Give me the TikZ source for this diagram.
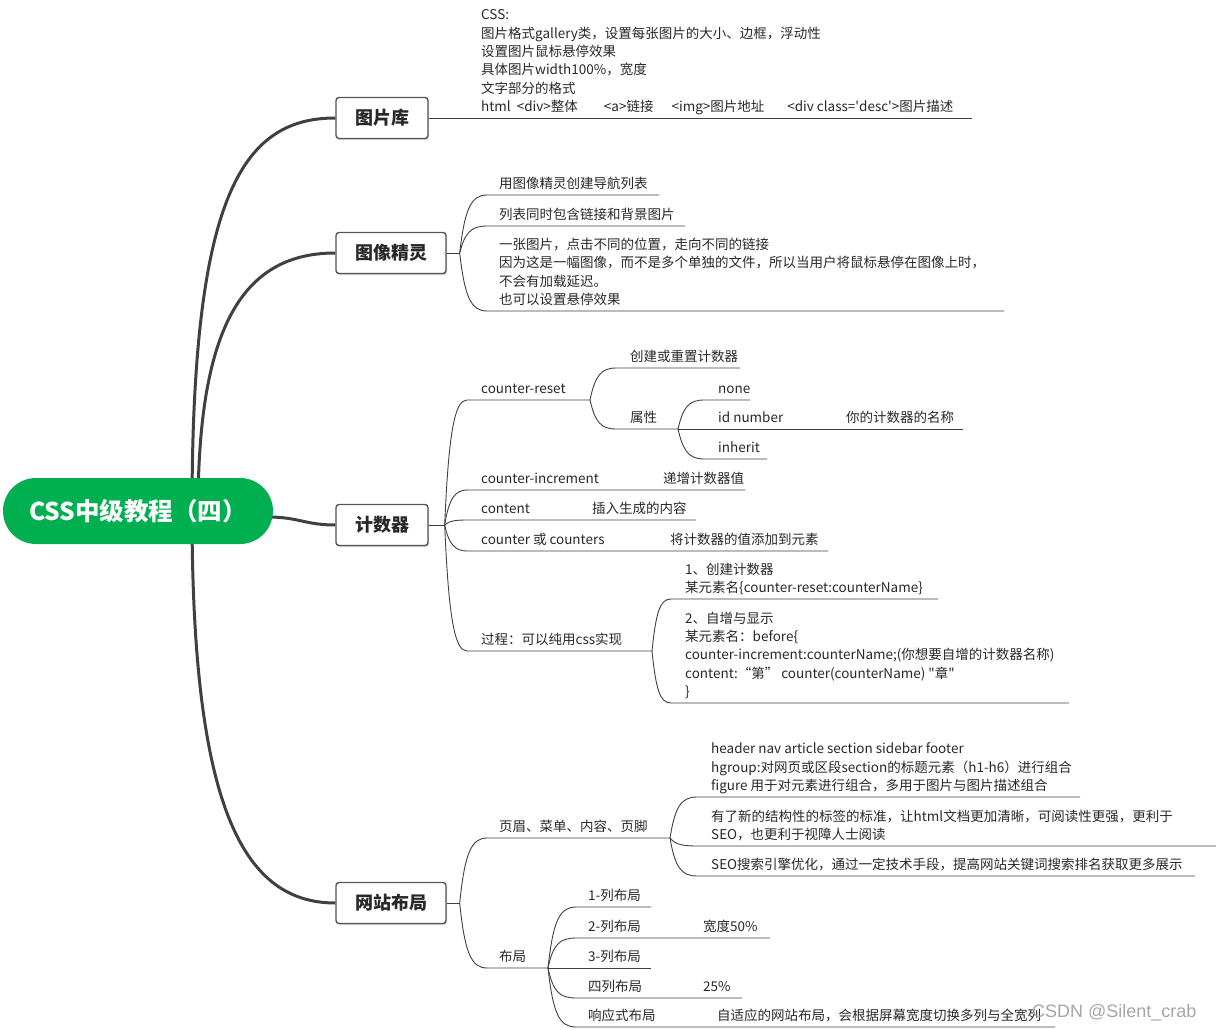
\documentclass[tikz,border=0pt]{standalone}
\usepackage{fontspec}
\setmainfont{Noto Sans CJK SC}
\newfontfamily\wmfont{Liberation Sans}
\usetikzlibrary{shadows,backgrounds}
\definecolor{rootgreen}{RGB}{0,176,80}
\definecolor{linegray}{RGB}{64,64,64}
\definecolor{boxgray}{RGB}{85,85,85}
\definecolor{textgray}{RGB}{40,40,40}

\begin{document}
\begin{tikzpicture}[x=1pt,y=-1pt,
    root/.style={fill=rootgreen,text=white,rounded corners=33pt,minimum width=270pt,minimum height=66pt,inner sep=0pt,font=\fontsize{24.5}{27}\selectfont\bfseries},
    topic/.style={draw=boxgray,line width=1.4pt,fill=white,rounded corners=3pt,inner xsep=19pt,inner ysep=0pt,minimum height=41pt,text=textgray,font=\fontsize{18}{22}\selectfont\bfseries,drop shadow={shadow xshift=1pt,shadow yshift=-1.5pt,fill=black!35,opacity=.5}},
    leaf/.style={anchor=south west,inner sep=0pt,yshift=-2pt,align=left,text=textgray,font=\fontsize{13.5}{18.4}\selectfont,execute at end node=\strut},
    main/.style={draw=linegray,line width=3pt},
    link/.style={draw=linegray,line width=0.9pt}]
  \useasboundingbox (0,0) rectangle (1216,1030);

  % centre and main topics
  \node[root] (root) at (138,511) {CSS中级教程（四）};
  \node[topic] (tk) at (382,118) {图片库};
  \node[topic] (jl) at (391,253) {图像精灵};
  \node[topic] (js) at (382,525) {计数器};
  \node[topic] (bj) at (391,903) {网站布局};

  \begin{scope}[on background layer]
    \draw[main] ([xshift=54pt]root.center) .. controls +(0,-311) and +(-95,0) .. (tk.west);
    \draw[main] ([xshift=60pt]root.center) .. controls +(0,-180) and +(-95,0) .. (jl.west);
    \draw[main] ([xshift=-5pt,yshift=-6pt]root.east) .. controls +(30,0) and +(-30,0) .. (js.west);
    \draw[main] ([xshift=54pt]root.center) .. controls +(0,290) and +(-95,0) .. (bj.west);
  \end{scope}

  % 图片库
  \node[leaf] (tk-a) at (481,115.5) {CSS:\\图片格式gallery类，设置每张图片的大小、边框，浮动性\\设置图片鼠标悬停效果\\具体图片width100\%，宽度\\文字部分的格式\\html\ \ <div>整体\hspace{26pt}<a>链接\hspace{18pt}<img>图片地址\hspace{23pt}<div class=\textquotesingle desc\textquotesingle>图片描述};
  \draw[link] (tk.east) -- ++(543.5,0);

  % 图像精灵
  \draw[link] (jl.east) -- ++(13,0) coordinate (jl-f);
  \node[leaf] (jl-a) at (499,192.5) {用图像精灵创建导航列表};
  \node[leaf] (jl-b) at (499,223.5) {列表同时包含链接和背景图片};
  \node[leaf] (jl-c) at (499,308.5) {一张图片，点击不同的位置，走向不同的链接\\因为这是一幅图像，而不是多个单独的文件，所以当用户将鼠标悬停在图像上时，\\不会有加载延迟。\\也可以设置悬停效果};
  \draw[link] (jl-f) .. controls +(5,-44) and +(-16,0) .. ([xshift=-12pt,yshift=-0.5pt]jl-a.south west) -- ++(172,0);
  \draw[link] (jl-f) .. controls +(5,-20) and +(-16,0) .. ([xshift=-12pt,yshift=-0.5pt]jl-b.south west) -- ++(198,0);
  \draw[link] (jl-f) .. controls +(5,44) and +(-16,0) .. ([xshift=-12pt,yshift=-0.5pt]jl-c.south west) -- ++(517,0);

  % 计数器
  \draw[link] (js.east) -- ++(16,0) coordinate (js-f);
  \node[leaf] (js-a) at (481,397.5) {counter-reset};
  \node[leaf] (js-b) at (481,487.5) {counter-increment};
  \node[leaf] (js-b1) at (663,487.5) {递增计数器值};
  \node[leaf] (js-c) at (481,517.5) {content};
  \node[leaf] (js-c1) at (592,517.5) {插入生成的内容};
  \node[leaf] (js-d) at (481,548.5) {counter 或 counters};
  \node[leaf] (js-d1) at (670,548.5) {将计数器的值添加到元素};
  \node[leaf] (js-e) at (481,648.5) {过程：可以纯用css实现};
  \draw[link] (js-f) .. controls +(4,-95) and +(-12,0) .. ([xshift=-14pt,yshift=-0.5pt]js-a.south west) -- ++(123,0) coordinate (js-af);
  \draw[link] (js-f) .. controls +(4,-26) and +(-12,0) .. ([xshift=-14pt,yshift=-0.5pt]js-b.south west) -- ++(278,0);
  \draw[link] (js-f) .. controls +(4,-4) and +(-12,0) .. ([xshift=-14pt,yshift=-0.5pt]js-c.south west) -- ++(229,0);
  \draw[link] (js-f) .. controls +(4,19) and +(-12,0) .. ([xshift=-14pt,yshift=-0.5pt]js-d.south west) -- ++(361,0);
  \draw[link] (js-f) .. controls +(4,95) and +(-12,0) .. ([xshift=-14pt,yshift=-0.5pt]js-e.south west) -- ++(185,0) coordinate (js-ef);

  \node[leaf] (js-a1) at (630,365.5) {创建或重置计数器};
  \node[leaf] (js-a2) at (630,426.5) {属性};
  \draw[link] (js-af) .. controls +(5,-24) and +(-15,0) .. ([xshift=-14pt,yshift=-0.5pt]js-a1.south west) -- ++(124,0);
  \draw[link] (js-af) .. controls +(5,22) and +(-15,0) .. ([xshift=-14pt,yshift=-0.5pt]js-a2.south west) -- ++(62,0) coordinate (js-a2f);

  \node[leaf] (js-a2a) at (718,397.5) {none};
  \node[leaf] (js-a2b) at (718,426.5) {id number};
  \node[leaf] (js-a2b1) at (846,426.5) {你的计数器的名称};
  \node[leaf] (js-a2c) at (718,456.5) {inherit};
  \draw[link] (js-a2f) .. controls +(5,-22) and +(-15,0) .. ([xshift=-14pt,yshift=-0.5pt]js-a2a.south west) -- ++(46,0);
  \draw[link] (js-a2f) -- ++(285,0);
  \draw[link] (js-a2f) .. controls +(5,22) and +(-15,0) .. ([xshift=-14pt,yshift=-0.5pt]js-a2c.south west) -- ++(63,0);

  \node[leaf] (js-e1) at (685,596.5) {1、创建计数器\\某元素名\{counter-reset:counterName\}};
  \node[leaf] (js-e2) at (685,700.5) {2、自增与显示\\某元素名：before\{\\counter-increment:counterName;(你想要自增的计数器名称)\\content:“第”\ counter(counterName)\ \textquotedbl 章\textquotedbl\\\}};
  \draw[link] (js-ef) .. controls +(4,-39) and +(-11,0) .. ([xshift=-14pt,yshift=-0.5pt]js-e1.south west) -- ++(267,0);
  \draw[link] (js-ef) .. controls +(4,39) and +(-11,0) .. ([xshift=-14pt,yshift=-0.5pt]js-e2.south west) -- ++(398,0);

  % 网站布局
  \draw[link] (bj.east) -- ++(13,0) coordinate (bj-f);
  \node[leaf] (bj-a) at (499,835.5) {页眉、菜单、内容、页脚};
  \node[leaf] (bj-b) at (499,965.5) {布局};
  \draw[link] (bj-f) .. controls +(5,-49) and +(-16,0) .. ([xshift=-12pt,yshift=-0.5pt]bj-a.south west) -- ++(183,0) coordinate (bj-af);
  \draw[link] (bj-f) .. controls +(5,49) and +(-16,0) .. ([xshift=-12pt,yshift=-0.5pt]bj-b.south west) -- ++(61,0) coordinate (bj-bf);

  \node[leaf] (bj-a1) at (711,794.5) {header nav article section sidebar footer\\hgroup:对网页或区段section的标题元素（h1-h6）进行组合\\figure 用于对元素进行组合，多用于图片与图片描述组合};
  \node[leaf] (bj-a2) at (711,843.5) {有了新的结构性的标签的标准，让html文档更加清晰，可阅读性更强，更利于\\SEO，也更利于视障人士阅读};
  \node[leaf] (bj-a3) at (711,873.5) {SEO搜索引擎优化，通过一定技术手段，提高网站关键词搜索排名获取更多展示};
  \draw[link] (bj-af) .. controls +(5,-31) and +(-16,0) .. ([xshift=-14pt,yshift=-0.5pt]bj-a1.south west) -- ++(383,0);
  \draw[link] (bj-af) .. controls +(5,6) and +(-16,0) .. ([xshift=-14pt,yshift=-0.5pt]bj-a2.south west) -- ++(519,0);
  \draw[link] (bj-af) .. controls +(5,29) and +(-16,0) .. ([xshift=-14pt,yshift=-0.5pt]bj-a3.south west) -- ++(498,0);

  \node[leaf] (bj-b1) at (588,904.5) {1-列布局};
  \node[leaf] (bj-b2) at (588,935.5) {2-列布局};
  \node[leaf] (bj-b21) at (703,935.5) {宽度50\%};
  \node[leaf] (bj-b3) at (588,965.5) {3-列布局};
  \node[leaf] (bj-b4) at (588,995.5) {四列布局};
  \node[leaf] (bj-b41) at (703,995.5) {25\%};
  \node[leaf] (bj-b5) at (588,1024.5) {响应式布局};
  \node[leaf] (bj-b51) at (717,1024.5) {自适应的网站布局，会根据屏幕宽度切换多列与全宽列};
  \draw[link] (bj-bf) .. controls +(5,-46) and +(-17,0) .. ([xshift=-12pt,yshift=-0.5pt]bj-b1.south west) -- ++(75,0);
  \draw[link] (bj-bf) .. controls +(5,-23) and +(-17,0) .. ([xshift=-12pt,yshift=-0.5pt]bj-b2.south west) -- ++(194,0);
  \draw[link] (bj-bf) -- ++(103,0);
  \draw[link] (bj-bf) .. controls +(5,23) and +(-17,0) .. ([xshift=-12pt,yshift=-0.5pt]bj-b4.south west) -- ++(166,0);
  \draw[link] (bj-bf) .. controls +(5,45) and +(-17,0) .. ([xshift=-12pt,yshift=-0.5pt]bj-b5.south west) -- ++(479,0);

  \node[anchor=base west,inner sep=0pt,text=black!35,font=\wmfont\fontsize{18}{20}\selectfont] (wm) at (1032,1017) {CSDN @Silent\_crab};
\end{tikzpicture}
\end{document}
